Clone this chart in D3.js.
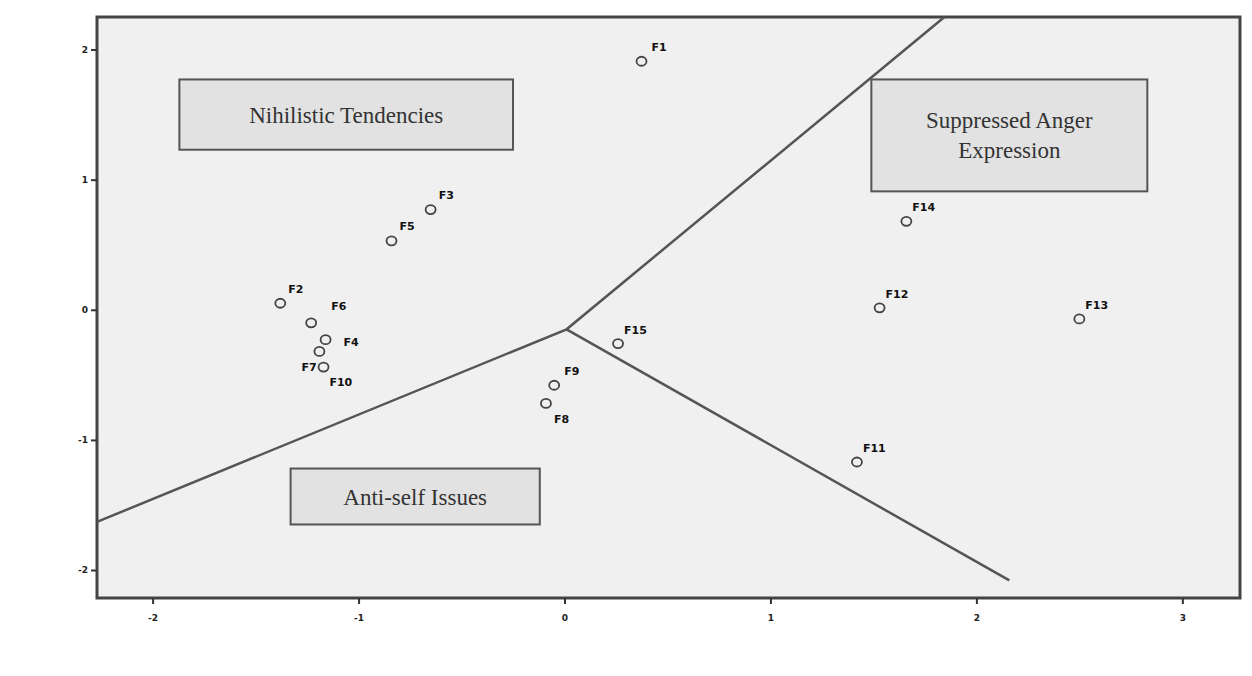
<!DOCTYPE html><html><head><meta charset="utf-8">
<script src="https://cdn.jsdelivr.net/npm/d3@7"></script>
<style>body{margin:0;background:#fff}</style></head><body>
<svg id="c" width="1252" height="676"></svg>
<script>
const labels=["F1","F2","F3","F6","F4","F10","F7","F5","F9","F8","F15","F11","F12","F13","F14"];
const xs=[0.374,-1.38,-0.65,-1.23,-1.16,-1.19,-1.17,-0.84,-0.05,-0.09,0.26,1.42,1.53,2.50,1.66];
const ys=[1.91,0.05,0.77,-0.10,-0.23,-0.32,-0.44,0.53,-0.58,-0.72,-0.26,-1.17,0.015,-0.07,0.68];
const labelDx=[10,8,8,20,18,10,-22,8,10,8,6,6,6,6,6];
const labelDy=[-14,-14,-15,-17,2,31,0,-15,-14,16,-14,-14,-14,-14,-14];
const xTicks=[-2,-1,0,1,2,3], yTicks=[-2,-1,0,1,2];
const boundary=[[-2.27,-1.63],[0.01,-0.15],[1.845,2.25]];
const boundary2=[[0.01,-0.15],[2.16,-2.08]];
const regionNames=[["Nihilistic Tendencies"],["Suppressed Anger","Expression"],["Anti-self Issues"]];
const regionX0=[-1.87,1.49,-1.33], regionX1=[-0.25,2.83,-0.12], regionY0=[1.77,1.77,-1.22], regionY1=[1.23,0.91,-1.65];

const svg=d3.select("#c");
const x=d3.scaleLinear().domain([-2.27,3.28]).range([97,1240]);
const y=d3.scaleLinear().domain([-2.215,2.25]).range([598,17]);
svg.append("rect").attr("x",97).attr("y",17).attr("width",1143).attr("height",581).attr("fill","#f0f0f0").attr("stroke","#444").attr("stroke-width",3);
const ln=d3.line().x(d=>x(d[0])).y(d=>y(d[1]));
[boundary,boundary2].forEach(b=>svg.append("path").attr("d",ln(b)).attr("fill","none").attr("stroke","#555").attr("stroke-width",2.5));
regionNames.forEach((n,i)=>{
  const g=svg.append("g");
  g.append("rect").attr("x",x(regionX0[i])).attr("y",y(regionY0[i])).attr("width",x(regionX1[i])-x(regionX0[i])).attr("height",y(regionY1[i])-y(regionY0[i])).attr("fill","#e2e2e2").attr("stroke","#555").attr("stroke-width",2);
  const cx=(x(regionX0[i])+x(regionX1[i]))/2, cy=(y(regionY0[i])+y(regionY1[i]))/2;
  n.forEach((t,j)=>g.append("text").attr("x",cx).attr("y",cy+(j-(n.length-1)/2)*30+8).attr("text-anchor","middle").attr("font-family","Liberation Serif").attr("font-size",23).attr("fill","#333").text(t));
});
const fmt=d=>String(d);
const xa=svg.append("g").attr("transform","translate(0,598)").call(d3.axisBottom(x).tickValues(xTicks).tickSize(6).tickFormat(fmt));
const ya=svg.append("g").attr("transform","translate(97,0)").call(d3.axisLeft(y).tickValues(yTicks).tickSize(6).tickFormat(fmt));
[xa,ya].forEach(a=>{a.select(".domain").remove();a.selectAll("line").attr("stroke","#333").attr("stroke-width",2);a.selectAll("text").attr("font-family","DejaVu Sans").attr("font-weight","bold").attr("font-size",9).attr("fill","#222");});
xa.selectAll("text").attr("dy","1.6em");
xs.forEach((v,i)=>{
  svg.append("ellipse").attr("cx",x(v)).attr("cy",y(ys[i])).attr("rx",5).attr("ry",4.5).attr("fill","none").attr("stroke","#444").attr("stroke-width",1.8);
  if(labels[i]) svg.append("text").attr("x",x(v)+labelDx[i]).attr("y",y(ys[i])+labelDy[i]+4).attr("font-family","DejaVu Sans").attr("font-weight","bold").attr("font-size",11).attr("fill","#111").text(labels[i]);
});
</script></body></html>
